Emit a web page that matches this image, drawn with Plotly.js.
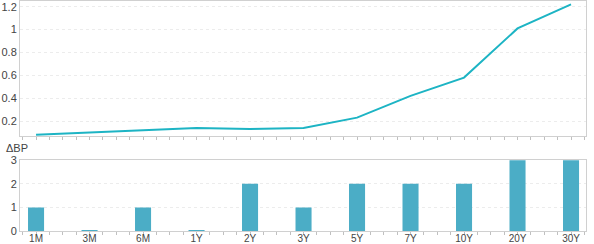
<!DOCTYPE html>
<html><head><meta charset="utf-8">
<script src="https://cdn.plot.ly/plotly-3.0.1.min.js"></script>
<style>html,body{margin:0;padding:0;background:#fff}#c{width:594px;height:244px}</style>
</head><body><div id="c"></div>
<script>
const tenors = ["1M","3M","6M","1Y","2Y","3Y","5Y","7Y","10Y","20Y","30Y"];
const yieldValues = [0.08, 0.10, 0.12, 0.14, 0.13, 0.14, 0.23, 0.42, 0.58, 1.01, 1.22];
const deltaBP = [1, 0.04, 1, 0.04, 2, 1, 2, 2, 2, 3, 3];
const xIdx = tenors.map((_, i) => i);

const font = {family: "Liberation Sans, Arial, sans-serif", size: 11, color: "#444"};
const gridColor = "#ececec";

const data = [
  {x: xIdx, y: yieldValues, type: "scatter", mode: "lines", xaxis: "x", yaxis: "y",
   line: {color: "#1db4c4", width: 2}, hoverinfo: "skip"},
  {x: xIdx, y: deltaBP, type: "bar", xaxis: "x2", yaxis: "y2", width: 0.3,
   marker: {color: "#4badc6"}, hoverinfo: "skip"}
];

const xCommon = {
  range: [-0.3, 10.28], showgrid: false, zeroline: false,
  showline: true, linecolor: "#d0d0d0", linewidth: 1, mirror: true,
  ticks: "outside", ticklen: 0, tickcolor: "#c0c0c0",
  minor: {ticks: "outside", ticklen: 3, tickcolor: "#c0c0c0", dtick: 0.25, tick0: 0, showgrid: false},
  automargin: false, fixedrange: true
};

const layout = {
  width: 594, height: 244,
  margin: {l: 20, r: 8, t: 1, b: 13},
  paper_bgcolor: "#fff", plot_bgcolor: "#fff",
  showlegend: false, font: font,
  xaxis: Object.assign({}, xCommon, {domain: [0, 1], anchor: "y", showticklabels: false,
     tickmode: "array", tickvals: xIdx}),
  yaxis: {domain: [0.411, 1], anchor: "x", range: [0.065, 1.25],
     tickvals: [0.2, 0.4, 0.6, 0.8, 1, 1.2], ticktext: ["0.2","0.4","0.6","0.8","1","1.2"],
     showgrid: true, gridcolor: gridColor, griddash: "dot", zeroline: false,
     showline: true, linecolor: "#d0d0d0", mirror: true, ticks: "", automargin: false, fixedrange: true},
  xaxis2: Object.assign({}, xCommon, {domain: [0, 1], anchor: "y2",
     tickmode: "array", tickvals: xIdx, ticktext: tenors,
     tickfont: {family: font.family, size: 10, color: "#444"}, ticklabelstandoff: -2}),
  yaxis2: {domain: [0, 0.31], anchor: "x2", range: [0, 3.02],
     tickvals: [0, 1, 2, 3],
     showgrid: true, gridcolor: gridColor, griddash: "dot", zeroline: false,
     showline: true, linecolor: "#d0d0d0", mirror: true, ticks: "", automargin: false, fixedrange: true},
  annotations: [{text: "ΔBP", xref: "paper", yref: "paper", x: -0.028, y: 0.362,
     xanchor: "left", yanchor: "middle", showarrow: false, font: font}]
};

Plotly.newPlot("c", data, layout, {staticPlot: true, displayModeBar: false});
</script></body></html>
